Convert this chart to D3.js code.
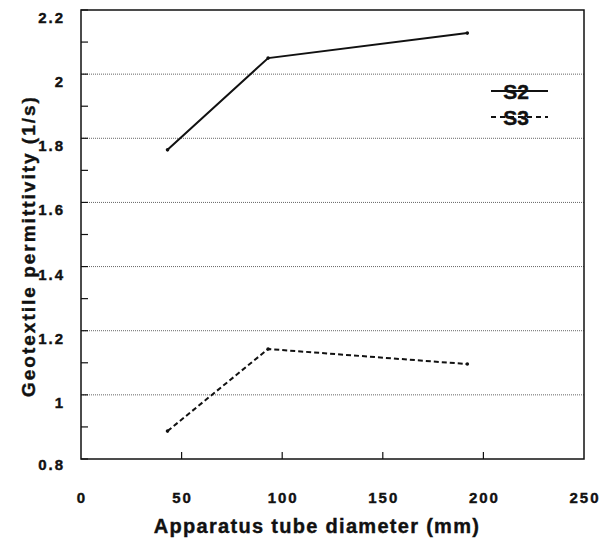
<!DOCTYPE html>
<html>
<head>
<meta charset="utf-8">
<script src="https://cdn.jsdelivr.net/npm/d3@7"></script>
<style>
  body { margin: 0; background: #fff; }
  text { font-family: "Liberation Sans", Arial, sans-serif; font-weight: bold; fill: #111; stroke: #111; stroke-width: 0.4px; }
</style>
</head>
<body>
<script>
const width = 612;
const height = 540;

// values
const diameters = [43, 93, 192];
const s2 = [1.764, 2.05, 2.128];
const s3 = [0.887, 1.143, 1.096];
const xTicks = [0, 50, 100, 150, 200, 250];
const yTicks = [0.8, 1, 1.2, 1.4, 1.6, 1.8, 2, 2.2];
const yMinor = [0.9, 1.1, 1.3, 1.5, 1.7, 1.9, 2.1];
const gridVals = [1, 1.2, 1.4, 1.6, 1.8, 2];

const plotLeft = 81, plotRight = 584, plotTop = 10, plotBottom = 459;

const svg = d3.select('body')
  .append('svg')
  .attr('width', width)
  .attr('height', height);

const x = d3.scaleLinear().domain([0, 250]).range([plotLeft, plotRight]);
const y = d3.scaleLinear().domain([0.8, 2.2]).range([plotBottom, plotTop]);

// dotted grid
svg.selectAll('line.grid')
  .data(gridVals)
  .enter()
  .append('line')
  .attr('x1', plotLeft).attr('x2', plotRight)
  .attr('y1', d => y(d)).attr('y2', d => y(d))
  .attr('stroke', '#666')
  .attr('stroke-width', 1)
  .attr('stroke-dasharray', '1,1');

// frame
svg.append('rect')
  .attr('x', plotLeft).attr('y', plotTop)
  .attr('width', plotRight - plotLeft).attr('height', plotBottom - plotTop)
  .attr('fill', 'none')
  .attr('stroke', '#111')
  .attr('stroke-width', 1.5);

// inward ticks
svg.selectAll('line.ytick')
  .data(yTicks.concat(yMinor))
  .enter()
  .append('line')
  .attr('x1', plotLeft).attr('x2', plotLeft + 7)
  .attr('y1', d => y(d)).attr('y2', d => y(d))
  .attr('stroke', '#111')
  .attr('stroke-width', 1.2);

svg.selectAll('line.xtick')
  .data(xTicks.slice(1, -1))
  .enter()
  .append('line')
  .attr('x1', d => x(d)).attr('x2', d => x(d))
  .attr('y1', plotBottom).attr('y2', plotBottom - 7)
  .attr('stroke', '#111')
  .attr('stroke-width', 1.2);

// tick labels
svg.selectAll('text.ylab')
  .data(yTicks)
  .enter()
  .append('text')
  .attr('x', plotLeft - 16)
  .attr('y', d => y(d) + (d === 0.8 ? 11 : 13))
  .attr('text-anchor', 'end')
  .attr('font-size', 15)
  .attr('letter-spacing', 2)
  .text(d => d);

svg.selectAll('text.xlab')
  .data(xTicks)
  .enter()
  .append('text')
  .attr('x', d => x(d) + 1)
  .attr('y', 503)
  .attr('text-anchor', 'middle')
  .attr('font-size', 15)
  .attr('letter-spacing', 2)
  .text(d => d);

// axis titles
svg.append('text')
  .attr('x', 317)
  .attr('y', 533)
  .attr('text-anchor', 'middle')
  .attr('font-size', 20)
  .attr('letter-spacing', 1.3)
  .text('Apparatus tube diameter (mm)');

svg.append('text')
  .attr('transform', 'translate(35,397) rotate(-90)')
  .attr('text-anchor', 'start')
  .attr('font-size', 19)
  .attr('letter-spacing', 2)
  .text('Geotextile permittivity (1/s)');

// series
const line = d3.line()
  .x((d, i) => x(diameters[i]))
  .y(d => y(d));

[[s2, null], [s3, '5,3']].forEach(([vals, dash]) => {
  svg.append('path')
    .attr('d', line(vals))
    .attr('fill', 'none')
    .attr('stroke', '#111')
    .attr('stroke-width', 2)
    .attr('stroke-dasharray', dash);
  svg.selectAll(null)
    .data(vals)
    .enter()
    .append('circle')
    .attr('cx', (d, i) => x(diameters[i]))
    .attr('cy', d => y(d))
    .attr('r', 1.8)
    .attr('fill', '#111');
});

// legend: labels struck through by the line sample
const legend = [
  { name: 'S2', dash: null, yy: 91 },
  { name: 'S3', dash: '5,4', yy: 117 }
];

legend.forEach(l => {
  svg.append('text')
    .attr('x', 516)
    .attr('y', l.yy + 8)
    .attr('text-anchor', 'middle')
    .attr('font-size', 21)
    .text(l.name);
  svg.append('line')
    .attr('x1', 491).attr('x2', 548)
    .attr('y1', l.yy).attr('y2', l.yy)
    .attr('stroke', '#111')
    .attr('stroke-width', 1.8)
    .attr('stroke-dasharray', l.dash);
});
</script>
</body>
</html>
